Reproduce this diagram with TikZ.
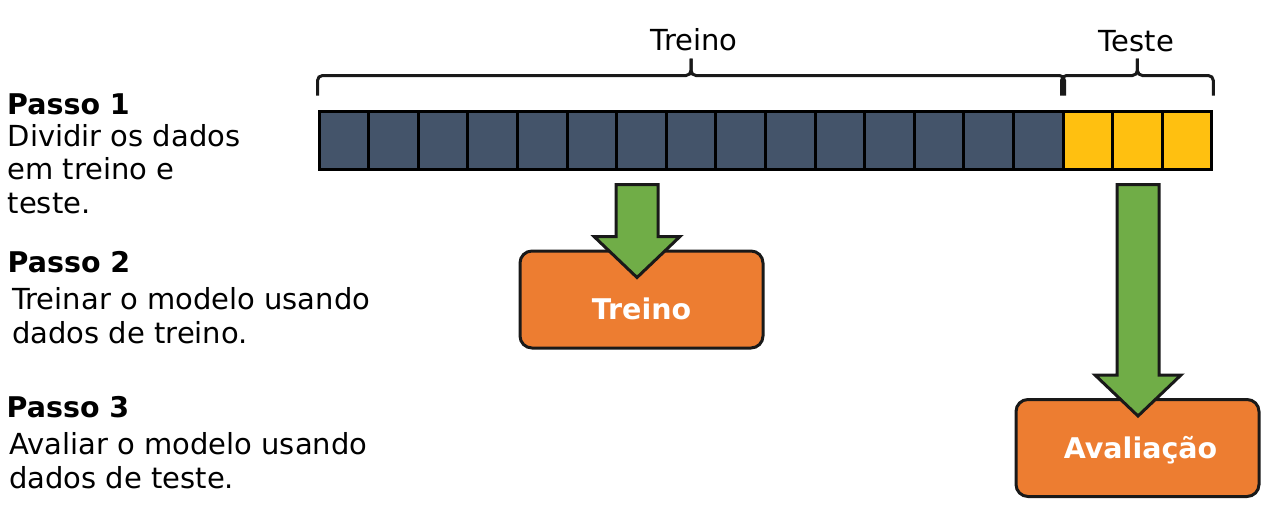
\documentclass[tikz,border=0pt]{standalone}
\usepackage{fontspec}
\setmainfont{DejaVu Sans}
\usetikzlibrary{positioning, calc}

\definecolor{slate}{HTML}{44546A}
\definecolor{amber}{HTML}{FFC010}
\definecolor{leaf}{HTML}{70AD47}
\definecolor{carrot}{HTML}{ED7D31}

% block arrow from #1 (top of shaft) down to #2 (tip)
\newcommand{\greenarrow}[2]{%
    \draw [garrow] ($(#1)+(-21,0)$) -- ($(#2)+(-21,-41)$) -- ($(#2)+(-43,-41)$)
        -- (#2) -- ($(#2)+(43,-41)$) -- ($(#2)+(21,-41)$) -- ($(#1)+(21,0)$) -- cycle;
}

\begin{document}
\begin{tikzpicture}[
            x=1pt, y=-1pt,
            font=\fontsize{29}{33.5}\selectfont,
            cell/.style={
                    rectangle,
                    draw=black,
                    line width=3pt,
                    fill=slate,
                    minimum width=49.6pt,
                    minimum height=58pt,
                    inner sep=0pt
                },
            bracket/.style={
                    draw=black!90,
                    line width=3pt,
                    rounded corners=5pt
                },
            box/.style={
                    rectangle,
                    draw=black!90,
                    line width=3pt,
                    rounded corners=12pt,
                    fill=carrot,
                    minimum width=243pt,
                    minimum height=97pt
                },
            boxlbl/.style={
                    text=white,
                    inner sep=0pt,
                    font=\fontsize{28.5}{33.5}\selectfont\bfseries
                },
            garrow/.style={
                    draw=black!90,
                    line width=3pt,
                    fill=leaf
                },
            head/.style={
                    anchor=base west,
                    inner sep=0pt,
                    font=\fontsize{28.5}{33.5}\selectfont\bfseries
                },
            desc/.style={
                    anchor=base west,
                    inner sep=0pt,
                    align=left
                }
        ]

        \useasboundingbox (0,0) rectangle (1265,512);

        % Data split bar
        \foreach \i in {1,...,15}
            \node [cell] (c\i) at ({319+49.6*(\i-0.5)}, 140) {};
        \foreach \i in {16,17,18}
            \node [cell, fill=amber] (c\i) at ({319+49.6*(\i-0.5)}, 140) {};

        % Braces
        \coordinate (trMid) at ($(c1.north west)!0.5!(c15.north east)+(0,-34)$);
        \coordinate (trTip) at ($(trMid)+(0,-17)$);
        \coordinate (teMid) at ($(c16.north west)!0.5!(c18.north east)+(0,-34)$);
        \coordinate (teTip) at ($(teMid)+(0,-17)$);
        \draw [bracket] ([yshift=14pt]c1.north west) |- (trMid) -- (trTip);
        \draw [bracket] ([yshift=14pt]c15.north east) |- (trMid) -- (trTip);
        \draw [bracket] ([yshift=14pt]c16.north west) |- (teMid) -- (teTip);
        \draw [bracket] ([yshift=14pt]c18.north east) |- (teMid) -- (teTip);
        \node [anchor=base, inner sep=0pt] (trLbl) at ($(trTip)+(3,-8)$) {Treino};
        \node [anchor=base, inner sep=0pt] (teLbl) at ($(teTip)+(-1,-7)$) {Teste};

        % Boxes
        \node [box] (trn) at (641.5, 299.5) {};
        \node [boxlbl] (trnLbl) at ([yshift=-9pt]trn.center) {Treino};
        \node [box] (aval) at (1137.5, 448) {};
        \node [boxlbl] (avalLbl) at ($(aval.center)+(3,2)$) {Avaliação};

        % Arrows
        \coordinate (a1tip) at ($(trn.north)+(-4.5,28)$);
        \coordinate (a1top) at ($(c1.south -| a1tip)+(0,14)$);
        \coordinate (a2tip) at ($(aval.north)+(0.5,18)$);
        \coordinate (a2top) at ($(c1.south -| a2tip)+(0,14)$);
        \greenarrow{a1top}{a1tip}
        \greenarrow{a2top}{a2tip}

        % Steps (base of a desc node is its last line)
        \node [head] (p1) at (7,114) {Passo 1};
        \node [desc] (d1) at (7.5,213) {Dividir os dados\\em treino e\\teste.};
        \node [head] (p2) at (7.5,272) {Passo 2};
        \node [desc] (d2) at (12,343) {Treinar o modelo usando\\dados de treino.};
        \node [head] (p3) at (6.5,417) {Passo 3};
        \node [desc] (d3) at (9,488) {Avaliar o modelo usando\\dados de teste.};
    \end{tikzpicture}
\end{document}
